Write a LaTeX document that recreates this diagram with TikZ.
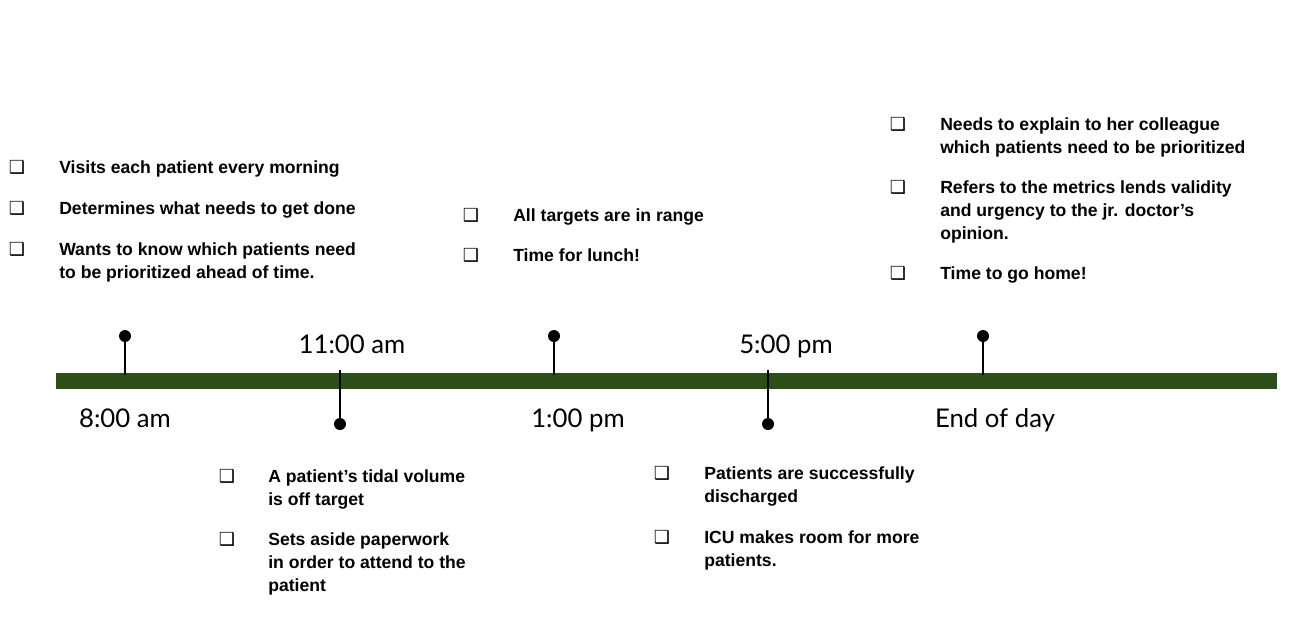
\documentclass[tikz,border=0pt]{standalone}
\usepackage{fontspec}
\setmainfont{Liberation Sans}
\newfontfamily\latofont{Lato}
\newfontfamily\symfont{DejaVu Sans}
\definecolor{bargreen}{HTML}{2D4F1A}
\tikzset{
  itemtext/.style={anchor=north west, inner sep=0pt, align=left,
    font=\fontsize{13.2}{17.25}\selectfont\bfseries},
  box/.style={anchor=center, inner sep=0pt, font=\symfont\fontsize{13.5}{13.5}\selectfont},
  timelabel/.style={anchor=base, inner sep=0pt, font=\latofont\fontsize{19.3}{21}\selectfont},
  pin/.style={line width=0.9pt, black},
  pindot/.style={circle, fill=black, inner sep=0pt, minimum size=9pt},
  anchorpt/.style={inner sep=0pt, minimum size=0pt}
}
\begin{document}
\begin{tikzpicture}[x=0.75pt, y=-0.75pt]
\useasboundingbox (0,0) rectangle (1296,629);
% bar
\fill[bargreen] (56,373) rectangle (1277,389);
% pins
\node[pindot] (d1) at (125,336) {};
\node[anchorpt] (b1) at (125,375) {};
\draw[pin] (d1) -- (b1);
\node[pindot] (d2) at (340,424) {};
\node[anchorpt] (b2) at (340,370) {};
\draw[pin] (b2) -- (d2);
\node[pindot] (d3) at (554,336) {};
\node[anchorpt] (b3) at (554,375) {};
\draw[pin] (d3) -- (b3);
\node[pindot] (d4) at (768,424) {};
\node[anchorpt] (b4) at (768,370) {};
\draw[pin] (b4) -- (d4);
\node[pindot] (d5) at (983,336) {};
\node[anchorpt] (b5) at (983,375) {};
\draw[pin] (d5) -- (b5);
% time labels
\node[timelabel] (t1) at (125,427) {8:00 am};
\node[timelabel] (t2) at (352,353) {11:00 am};
\node[timelabel] (t3) at (578,427) {1:00 pm};
\node[timelabel] (t4) at (786,353) {5:00 pm};
\node[timelabel] (t5) at (995,427) {End of day};
% group 1
\node[box] (c11) at (17,167) {\char"2751};
\node[itemtext] (i11) at (59,160) {Visits each patient every morning};
\node[box] (c12) at (17,208) {\char"2751};
\node[itemtext] (i12) at (59,201) {Determines what needs to get done};
\node[box] (c13) at (17,249) {\char"2751};
\node[itemtext] (i13) at (59,242) {Wants to know which patients need\\to be prioritized ahead of time.};
% group 2
\node[box] (c21) at (471,215) {\char"2751};
\node[itemtext] (i21) at (513,208) {All targets are in range};
\node[box] (c22) at (471,255) {\char"2751};
\node[itemtext] (i22) at (513,248) {Time for lunch!};
% group 3
\node[box] (c31) at (898,124) {\char"2751};
\node[itemtext] (i31) at (940,117) {Needs to explain to her colleague\\which patients need to be prioritized};
\node[box] (c32) at (898,187) {\char"2751};
\node[itemtext] (i32) at (940,180) {Refers to the metrics lends validity\\and urgency to the jr. doctor’s\\opinion.};
\node[box] (c33) at (898,273) {\char"2751};
\node[itemtext] (i33) at (940,266) {Time to go home!};
% group 4
\node[box] (c41) at (227,476) {\char"2751};
\node[itemtext] (i41) at (268,469) {A patient’s tidal volume\\is off target};
\node[box] (c42) at (227,539) {\char"2751};
\node[itemtext] (i42) at (268,532) {Sets aside paperwork\\in order to attend to the\\patient};
% group 5
\node[box] (c51) at (662,473) {\char"2751};
\node[itemtext] (i51) at (704,466) {Patients are successfully\\discharged};
\node[box] (c52) at (662,537) {\char"2751};
\node[itemtext] (i52) at (704,530) {ICU makes room for more\\patients.};
\end{tikzpicture}
\end{document}
